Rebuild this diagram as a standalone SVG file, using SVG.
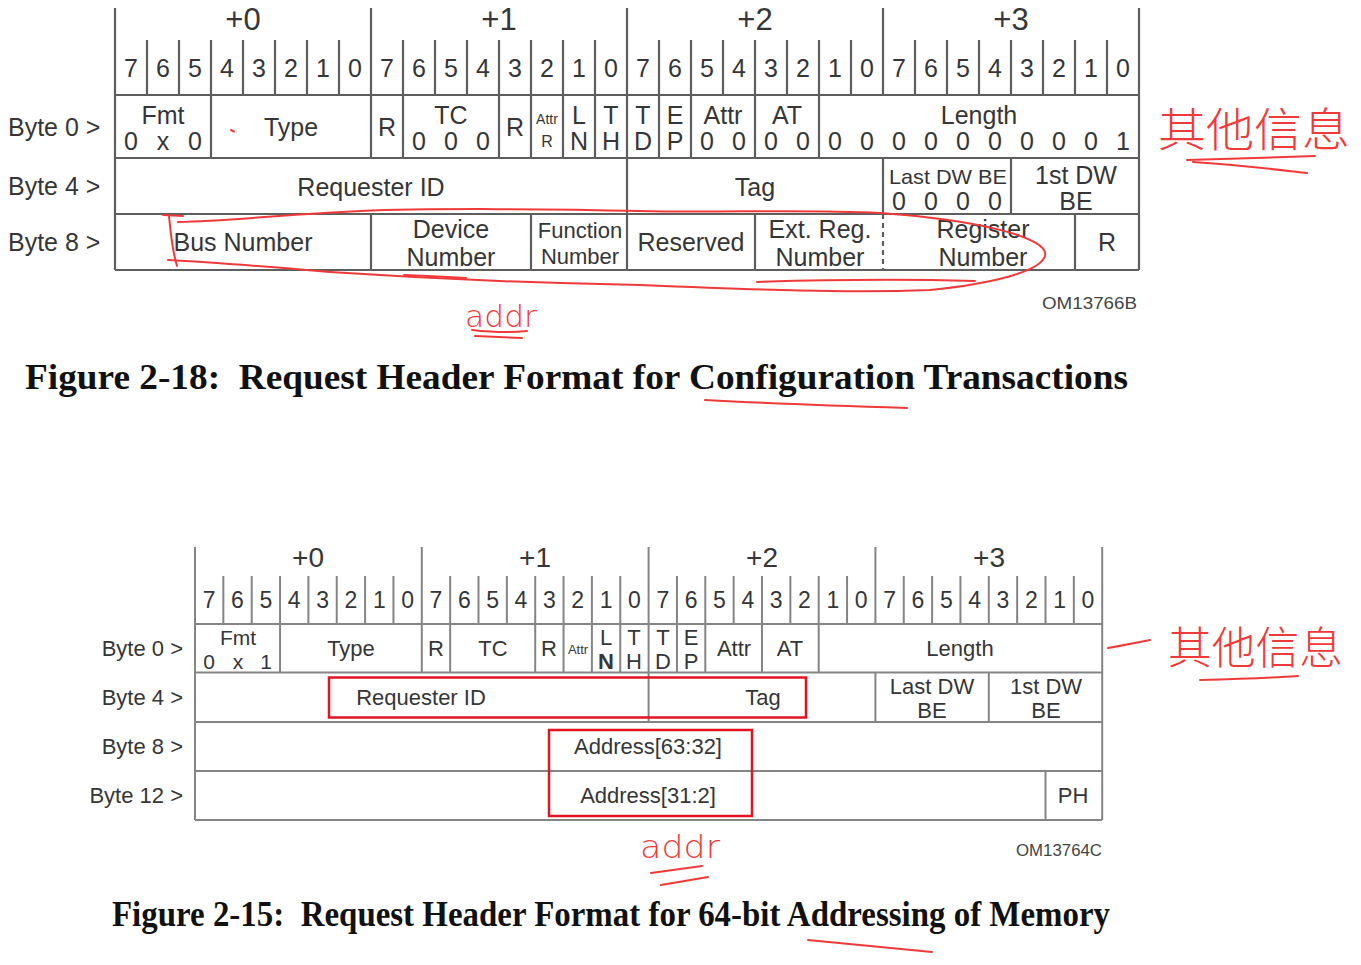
<svg xmlns="http://www.w3.org/2000/svg" width="1361" height="965" viewBox="0 0 1361 965">
<style>
.t{font-family:"Liberation Sans",Arial,sans-serif;fill:#363636;text-anchor:middle}
.s{font-size:25px}
.s2{font-size:22px}
.hd{font-size:31px}
.hd2{font-size:28px}
.lab{font-family:"Liberation Sans",Arial,sans-serif;fill:#363636}
.g1{stroke:#5e5e5e;stroke-width:2.2;fill:none}
.g2{stroke:#858585;stroke-width:2;fill:none}
.cap{font-family:"Liberation Serif","Times New Roman",serif;font-weight:bold;fill:#111;font-size:35px;white-space:pre}
.om{font-family:"Liberation Sans",Arial,sans-serif;fill:#444;font-size:17px;text-anchor:end}
.red{stroke:#f03a3a;stroke-width:2;fill:none;stroke-linecap:round;stroke-linejoin:round}
.rt{font-family:"Noto Sans CJK SC","Noto Sans",sans-serif;fill:#f03a3a;font-weight:300}
.box{stroke:#e3141f;stroke-width:2.5;fill:none}
</style>
<rect width="1361" height="965" fill="#ffffff"/>

<!-- ================= TOP DIAGRAM ================= -->
<g id="top-grid">
  <path class="g1" d="M115,8V270 M371,8V95 M627,8V95 M883,8V95 M1139,8V270"/>
  <path class="g1" d="M147,40V95 M179,40V95 M211,40V95 M243,40V95 M275,40V95 M307,40V95 M339,40V95
  M403,40V95 M435,40V95 M467,40V95 M499,40V95 M531,40V95 M563,40V95 M595,40V95
  M659,40V95 M691,40V95 M723,40V95 M755,40V95 M787,40V95 M819,40V95 M851,40V95
  M915,40V95 M947,40V95 M979,40V95 M1011,40V95 M1043,40V95 M1075,40V95 M1107,40V95"/>
  <path class="g1" d="M115,95H1139 M115,158H1139 M115,214H1139 M115,270H1139" stroke-width="2.6"/>
  <path class="g1" d="M211,95V158 M371,95V158 M403,95V158 M499,95V158 M531,95V158 M563,95V158 M595,95V158 M627,95V158 M659,95V158 M691,95V158 M755,95V158 M819,95V158"/>
  <path class="g1" d="M627,158V214 M883,158V214 M1011,158V214"/>
  <path class="g1" d="M371,214V270 M531,214V270 M627,214V270 M755,214V270 M1075,214V270"/>
  <path class="g1" d="M883,214V270" stroke-dasharray="5,4"/>
</g>

<g id="top-header">
  <text class="t hd" x="243" y="30">+0</text>
  <text class="t hd" x="499" y="30">+1</text>
  <text class="t hd" x="755" y="30">+2</text>
  <text class="t hd" x="1011" y="30">+3</text>
  <g class="t s">
    <text x="131" y="77">7</text><text x="163" y="77">6</text><text x="195" y="77">5</text><text x="227" y="77">4</text><text x="259" y="77">3</text><text x="291" y="77">2</text><text x="323" y="77">1</text><text x="355" y="77">0</text>
    <text x="387" y="77">7</text><text x="419" y="77">6</text><text x="451" y="77">5</text><text x="483" y="77">4</text><text x="515" y="77">3</text><text x="547" y="77">2</text><text x="579" y="77">1</text><text x="611" y="77">0</text>
    <text x="643" y="77">7</text><text x="675" y="77">6</text><text x="707" y="77">5</text><text x="739" y="77">4</text><text x="771" y="77">3</text><text x="803" y="77">2</text><text x="835" y="77">1</text><text x="867" y="77">0</text>
    <text x="899" y="77">7</text><text x="931" y="77">6</text><text x="963" y="77">5</text><text x="995" y="77">4</text><text x="1027" y="77">3</text><text x="1059" y="77">2</text><text x="1091" y="77">1</text><text x="1123" y="77">0</text>
  </g>
  <text class="lab s" x="8" y="136">Byte 0 &gt;</text>
  <text class="lab s" x="8" y="195">Byte 4 &gt;</text>
  <text class="lab s" x="8" y="251">Byte 8 &gt;</text>
</g>

<g id="top-byte0" class="t s">
  <text x="163" y="124">Fmt</text>
  <text x="131" y="150">0</text><text x="163" y="150">x</text><text x="195" y="150">0</text>
  <text x="291" y="136">Type</text>
  <text x="387" y="136">R</text>
  <text x="451" y="124">TC</text>
  <text x="419" y="150">0</text><text x="451" y="150">0</text><text x="483" y="150">0</text>
  <text x="515" y="136">R</text>
  <text x="547" y="124" style="font-size:14px">Attr</text>
  <text x="547" y="147" style="font-size:16px">R</text>
  <text x="579" y="124">L</text><text x="579" y="150">N</text>
  <text x="611" y="124">T</text><text x="611" y="150">H</text>
  <text x="643" y="124">T</text><text x="643" y="150">D</text>
  <text x="675" y="124">E</text><text x="675" y="150">P</text>
  <text x="723" y="124">Attr</text>
  <text x="707" y="150">0</text><text x="739" y="150">0</text>
  <text x="787" y="124">AT</text>
  <text x="771" y="150">0</text><text x="803" y="150">0</text>
  <text x="979" y="124">Length</text>
  <text x="835" y="150">0</text><text x="867" y="150">0</text><text x="899" y="150">0</text><text x="931" y="150">0</text><text x="963" y="150">0</text><text x="995" y="150">0</text><text x="1027" y="150">0</text><text x="1059" y="150">0</text><text x="1091" y="150">0</text><text x="1123" y="150">1</text>
</g>

<g id="top-byte4" class="t s">
  <text x="371" y="196">Requester ID</text>
  <text x="755" y="196">Tag</text>
  <text x="948" y="184" style="font-size:21px" textLength="118" lengthAdjust="spacingAndGlyphs">Last DW BE</text>
  <text x="899" y="210">0</text><text x="931" y="210">0</text><text x="963" y="210">0</text><text x="995" y="210">0</text>
  <text x="1076" y="184">1st DW</text>
  <text x="1076" y="210">BE</text>
</g>

<g id="top-byte8" class="t s">
  <text x="243" y="251">Bus Number</text>
  <text x="451" y="238">Device</text>
  <text x="451" y="266">Number</text>
  <text x="580" y="238" style="font-size:22px">Function</text>
  <text x="580" y="264" style="font-size:22px">Number</text>
  <text x="691" y="251">Reserved</text>
  <text x="820" y="238">Ext. Reg.</text>
  <text x="820" y="266">Number</text>
  <text x="983" y="238">Register</text>
  <text x="983" y="266">Number</text>
  <text x="1107" y="251">R</text>
</g>

<text id="top-om" class="om" x="1137" y="309" textLength="95" lengthAdjust="spacingAndGlyphs">OM13766B</text>
<text id="top-caption" class="cap" xml:space="preserve" x="25" y="389" textLength="1103" lengthAdjust="spacingAndGlyphs">Figure 2-18:  Request Header Format for Configuration Transactions</text>

<!-- ================= BOTTOM DIAGRAM ================= -->
<g id="bottom-grid">
  <path class="g2" d="M195,547V820 M421.8,547V624 M648.6,547V624 M875.4,547V624 M1102.2,547V820"/>
  <path class="g2" d="M223.35,576V624 M251.7,576V624 M280.05,576V624 M308.4,576V624 M336.75,576V624 M365.1,576V624 M393.45,576V624
  M450.15,576V624 M478.5,576V624 M506.85,576V624 M535.2,576V624 M563.55,576V624 M591.9,576V624 M620.25,576V624
  M676.95,576V624 M705.3,576V624 M733.65,576V624 M762,576V624 M790.35,576V624 M818.7,576V624 M847.05,576V624
  M903.75,576V624 M932.1,576V624 M960.45,576V624 M988.8,576V624 M1017.15,576V624 M1045.5,576V624 M1073.85,576V624"/>
  <path class="g2" d="M195,624H1102 M195,672.5H1102 M195,722H1102 M195,771H1102 M195,820H1102" stroke-width="2.4"/>
  <path class="g2" d="M280.05,624V672 M421.8,624V672 M450.15,624V672 M535.2,624V672 M563.55,624V672 M591.9,624V672 M620.25,624V672 M648.6,624V672 M676.95,624V672 M705.3,624V672 M762,624V672 M818.7,624V672"/>
  <path class="g2" d="M648.6,672V722 M875.4,672V722 M988.8,672V722"/>
  <path class="g2" d="M1045.5,771V820"/>
</g>

<g id="bottom-header">
  <text class="t hd2" x="308" y="567">+0</text>
  <text class="t hd2" x="535" y="567">+1</text>
  <text class="t hd2" x="762" y="567">+2</text>
  <text class="t hd2" x="989" y="567">+3</text>
  <g class="t" style="font-size:23px">
    <text x="209.2" y="608">7</text><text x="237.5" y="608">6</text><text x="265.9" y="608">5</text><text x="294.2" y="608">4</text><text x="322.6" y="608">3</text><text x="350.9" y="608">2</text><text x="379.3" y="608">1</text><text x="407.6" y="608">0</text>
    <text x="436" y="608">7</text><text x="464.3" y="608">6</text><text x="492.7" y="608">5</text><text x="521" y="608">4</text><text x="549.4" y="608">3</text><text x="577.7" y="608">2</text><text x="606.1" y="608">1</text><text x="634.4" y="608">0</text>
    <text x="662.8" y="608">7</text><text x="691.1" y="608">6</text><text x="719.5" y="608">5</text><text x="747.8" y="608">4</text><text x="776.2" y="608">3</text><text x="804.5" y="608">2</text><text x="832.9" y="608">1</text><text x="861.2" y="608">0</text>
    <text x="889.6" y="608">7</text><text x="917.9" y="608">6</text><text x="946.3" y="608">5</text><text x="974.6" y="608">4</text><text x="1003" y="608">3</text><text x="1031.3" y="608">2</text><text x="1059.7" y="608">1</text><text x="1088" y="608">0</text>
  </g>
  <g class="lab s2" style="text-anchor:end">
    <text x="183" y="656">Byte 0 &gt;</text>
    <text x="183" y="705">Byte 4 &gt;</text>
    <text x="183" y="754">Byte 8 &gt;</text>
    <text x="183" y="803">Byte 12 &gt;</text>
  </g>
</g>

<g id="bottom-byte0" class="t s2">
  <text x="238" y="645" style="font-size:21px">Fmt</text>
  <text x="209" y="669" style="font-size:21px">0</text><text x="238" y="669" style="font-size:21px">x</text><text x="266" y="669" style="font-size:21px">1</text>
  <text x="351" y="656">Type</text>
  <text x="436" y="656">R</text>
  <text x="493" y="656">TC</text>
  <text x="549" y="656">R</text>
  <text x="578" y="654" style="font-size:13px">Attr</text>
  <text x="606" y="645">L</text><text x="606" y="669" style="font-weight:bold">N</text>
  <text x="634" y="645">T</text><text x="634" y="669">H</text>
  <text x="663" y="645">T</text><text x="663" y="669">D</text>
  <text x="691" y="645">E</text><text x="691" y="669">P</text>
  <text x="734" y="656">Attr</text>
  <text x="790" y="656">AT</text>
  <text x="960" y="656">Length</text>
</g>

<g id="bottom-byte4" class="t s2">
  <text x="421" y="705">Requester ID</text>
  <text x="763" y="705">Tag</text>
  <text x="932" y="694">Last DW</text>
  <text x="932" y="718">BE</text>
  <text x="1046" y="694">1st DW</text>
  <text x="1046" y="718">BE</text>
</g>

<g id="bottom-byte8" class="t s2">
  <text x="648" y="754">Address[63:32]</text>
</g>
<g id="bottom-byte12" class="t s2">
  <text x="648" y="803">Address[31:2]</text>
  <text x="1073" y="803">PH</text>
</g>

<g id="highlight-boxes">
  <rect class="box" x="329" y="677.5" width="477" height="40"/>
  <rect class="box" x="549" y="730" width="203" height="86"/>
</g>

<text id="bottom-om" class="om" x="1102" y="856" style="font-size:16px" textLength="86" lengthAdjust="spacingAndGlyphs">OM13764C</text>
<text id="bottom-caption" class="cap" xml:space="preserve" x="112" y="926" textLength="998" lengthAdjust="spacingAndGlyphs">Figure 2-15:  Request Header Format for 64-bit Addressing of Memory</text>

<!-- ================= RED ANNOTATIONS ================= -->
<g id="annotations">
  <path class="red" d="M163,215 L183,216"/>
  <path class="red" d="M169,216 C171,235 172,250 177,266"/>
  <path class="red" d="M178,222 C230,221 290,214 360,211 S560,209 640,211 S800,209 880,213 C980,220 1050,238 1045,256 C1040,272 990,284 930,290 C850,293 760,290 640,285 C520,283 420,278 330,272 C260,266 210,262 168,260"/>
  <path class="red" d="M757,282 C820,280 900,279 975,281"/>
  <path class="red" d="M404,275 C430,276 450,277 466,278"/>
  <path class="red" d="M231,130 L234,131.5"/>
  <text class="rt" x="465" y="327" style="font-size:30px;font-family:'DejaVu Sans',sans-serif;font-weight:200" textLength="72" lengthAdjust="spacingAndGlyphs">addr</text>
  <path class="red" d="M472,330 C490,332 510,333 527,331"/>
  <path class="red" d="M475,336 L522,338"/>
  <path class="red" d="M705,400 C760,403 840,406 907,408"/>

  <text class="rt" x="1158" y="146" style="font-size:46px" textLength="192" lengthAdjust="spacingAndGlyphs">其他信息</text>
  <path class="red" d="M1187,160 C1230,159 1280,157 1315,156"/>
  <path class="red" d="M1193,162 C1240,165 1280,170 1307,173"/>

  <path class="red" d="M1108,648 C1125,645 1140,642 1150,640"/>
  <text class="rt" x="1168" y="664" style="font-size:44px" textLength="175" lengthAdjust="spacingAndGlyphs">其他信息</text>
  <path class="red" d="M1200,680 C1240,679 1270,678 1298,676"/>

  <text class="rt" x="640" y="858" style="font-size:32px;font-family:'DejaVu Sans',sans-serif;font-weight:200" textLength="80" lengthAdjust="spacingAndGlyphs">addr</text>
  <path class="red" d="M651,873 L702,866"/>
  <path class="red" d="M661,885 L708,877"/>
  <path class="red" d="M808,940 C850,944 890,948 932,952"/>
</g>
</svg>
